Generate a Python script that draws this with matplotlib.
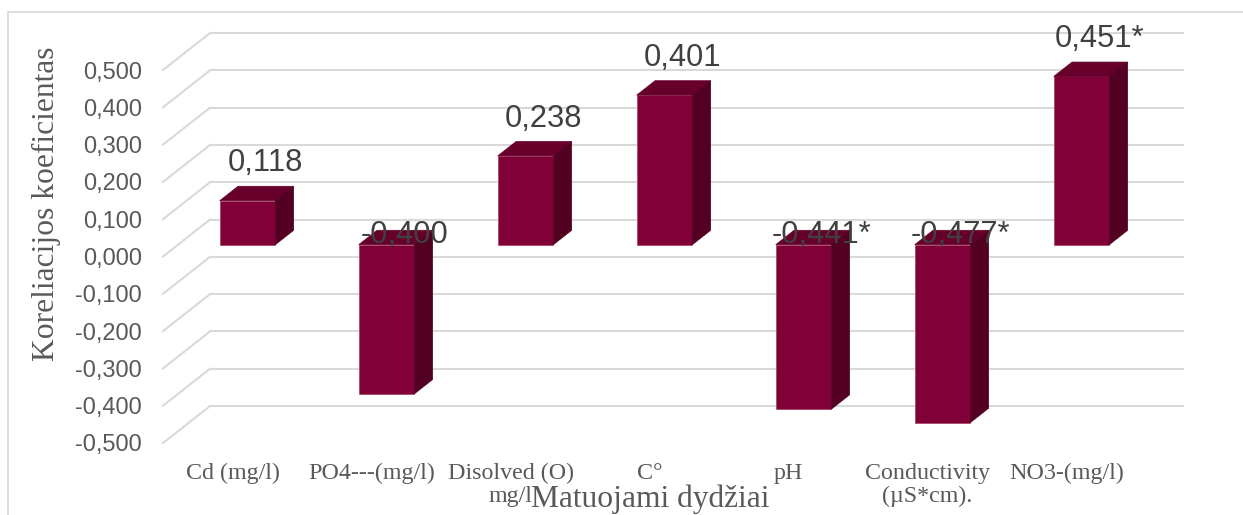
import matplotlib
matplotlib.use("Agg")
import matplotlib.pyplot as plt
from matplotlib.patches import Polygon, Rectangle

# correlation of each measured quantity
categories = ["Cd (mg/l)", "PO4---(mg/l)", "Disolved (O)\nmg/l", "C°", "pH",
              "Conductivity\n(µS*cm).", "NO3-(mg/l)"]
values = [0.118, -0.400, 0.238, 0.401, -0.441, -0.477, 0.451]
significant = [False, False, False, False, True, True, True]
yticks = [0.5, 0.4, 0.3, 0.2, 0.1, 0.0, -0.1, -0.2, -0.3, -0.4, -0.5]

SERIF = "Liberation Serif"
SANS = "Liberation Sans"
FRONT = "#820038"
TOP = "#66002b"
SIDE = "#530022"
GRID = "#d9d9d9"

W, H = 1243, 515
fig = plt.figure(figsize=(W / 100, H / 100), dpi=100)
fig.patches.append(Rectangle((8 / W, -0.2), 2, 1.2 - 12 / H, transform=fig.transFigure,
                             fill=False, edgecolor=GRID, lw=1.2))

ax = fig.add_axes([163 / W, 72 / H, 973 / W, 373 / H])
n = len(categories)
ax.set_xlim(0, n)
ax.set_ylim(-0.5, 0.5)
for s in ax.spines.values():
    s.set_visible(False)

# oblique depth of the 3d box, in data units
dx, dy = 0.338, 0.099
front_f, depth_f = 0.32, 0.39
bw = 0.40

# walls: back gridlines plus the slanted side-wall lines
for t in yticks:
    ax.plot([dx, n + dx], [t + dy, t + dy], color=GRID, lw=1.5, zorder=1, clip_on=False)
    ax.plot([0, dx], [t, t + dy], color=GRID, lw=1.5, zorder=1, clip_on=False)

x0 = [i + 0.5 - bw / 2 + front_f * dx for i in range(n)]
y0 = front_f * dy
bdx, bdy = depth_f * dx, depth_f * dy

ax.bar(x0, values, width=bw, bottom=y0, align="edge", color=FRONT,
       edgecolor="#a3405f", lw=0.5, zorder=3, clip_on=False)
for xl, v in zip(x0, values):
    top = y0 + max(v, 0)
    low = y0 + min(v, 0)
    ax.add_patch(Polygon([(xl, top), (xl + bw, top), (xl + bw + bdx, top + bdy),
                          (xl + bdx, top + bdy)], closed=True, facecolor=TOP,
                         edgecolor=TOP, lw=0.5, zorder=3, clip_on=False))
    ax.add_patch(Polygon([(xl + bw, low), (xl + bw, top), (xl + bw + bdx, top + bdy),
                          (xl + bw + bdx, low + bdy)], closed=True, facecolor=SIDE,
                         edgecolor=SIDE, lw=0.5, zorder=3, clip_on=False))

# value labels
for xl, v, sig in zip(x0, values, significant):
    txt = f"{v:.3f}".replace(".", ",") + ("*" if sig else "")
    xc = xl + bw / 2 + bdx
    if v >= 0:
        ax.annotate(txt, (xc, y0 + v + bdy), xytext=(0, 15), textcoords="offset pixels",
                    ha="center", va="baseline", fontsize=22.2, family=SANS,
                    color="#404040", zorder=5, annotation_clip=False)
    else:
        ax.annotate(txt, (xc, y0), xytext=(0, 2), textcoords="offset pixels",
                    ha="center", va="baseline", fontsize=22.2, family=SANS,
                    color="#404040", zorder=5, annotation_clip=False)

ax.set_yticks(yticks)
ax.set_yticklabels([f"{t:.3f}".replace(".", ",") for t in yticks],
                   family=SANS, fontsize=17, color="#595959")
ax.set_xticks([i + 0.5 for i in range(n)])
ax.set_xticklabels(categories, family=SERIF, fontsize=17.3, color="#595959",
                   linespacing=1.1)
ax.tick_params(axis="y", length=0, pad=15)
ax.tick_params(axis="x", length=0, pad=14.5)

ax.annotate("Matuojami dydžiai", (0.5, 0), xycoords="axes fraction", xytext=(1, -64),
            textcoords="offset pixels", ha="center", va="baseline",
            family=SERIF, fontsize=22.7, color="#595959")
fig.text(46.5 / W, 1 - 203.5 / H, "Koreliacijos koeficientas", rotation=90,
         ha="center", va="center", family=SERIF, fontsize=22.7, color="#595959")

fig.savefig("out.png", dpi=100)
